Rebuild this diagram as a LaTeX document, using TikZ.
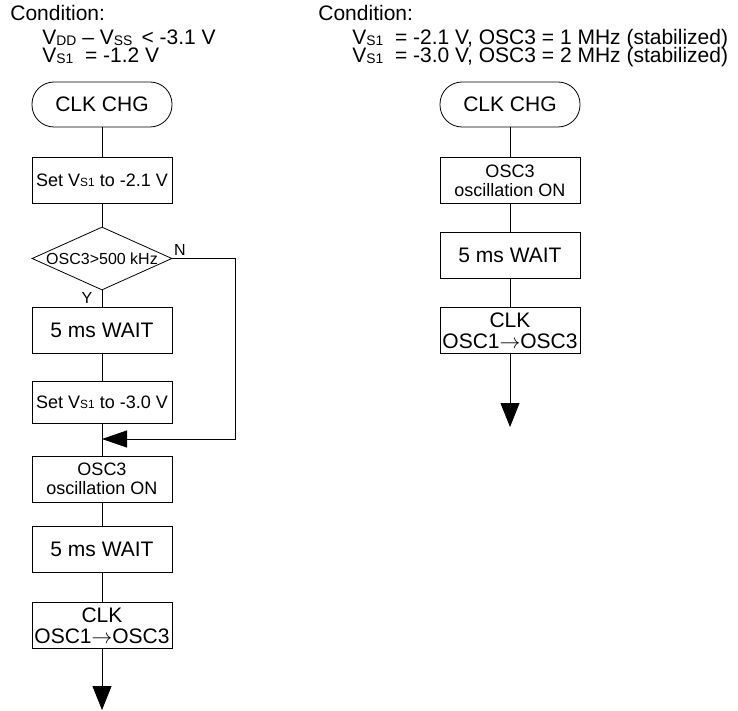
\documentclass[tikz,border=0pt]{standalone}
\usepackage{fontspec}
\setmainfont{Liberation Sans}
\usetikzlibrary{shapes.geometric,arrows.meta}
\newcommand\lowsub[1]{\raisebox{-0.02em}{\scalebox{0.66}{#1}}}

\begin{document}
\begin{tikzpicture}[x=1pt,y=-1pt,line width=0.8pt,
		every node/.style={font=\fontsize{21}{21}\selectfont, inner sep=0pt},
		box/.style={draw, minimum width=140pt, minimum height=46pt, align=center},
		small/.style={font=\fontsize{18}{19}\selectfont},
		term/.style={box, minimum height=45pt, rounded corners=22pt},
		decision/.style={draw, diamond, aspect=2.2, minimum width=140pt, minimum height=63pt, font=\fontsize{16}{16}\selectfont},
		label/.style={font=\fontsize{16}{16}\selectfont},
		arr/.style={-{Triangle[length=24pt,width=19pt]}}]
		\useasboundingbox (0,0) rectangle (738,711);
		\pgfmathsetmacro\xl{102}
		\pgfmathsetmacro\xr{510}
		% conditions
		\node[anchor=base west] (condl) at (10,21) {Condition:};
		\node[anchor=base west] (condl1) at (42,45) {V\lowsub{DD} -- V\lowsub{SS} \,< -3.1 V};
		\node[anchor=base west] (condl2) at (42,63) {V\lowsub{S1} \ = -1.2 V};
		\node[anchor=base west] (condr) at (318,21) {Condition:};
		\node[anchor=base west] (condr1) at (352,45) {V\lowsub{S1} \ = -2.1 V, OSC3 = 1 MHz (stabilized)};
		\node[anchor=base west] (condr2) at (352,63) {V\lowsub{S1} \ = -3.0 V, OSC3 = 2 MHz (stabilized)};
		% left flow
		\node[term] (tl) at (\xl,104.5) {CLK CHG};
		\node[box,small] (setl1) at (\xl,180) {Set V\lowsub{S1} to -2.1 V};
		\node[decision] (chk) at (\xl,258.5) {OSC3>500 kHz};
		\node[box] (waitl1) at (\xl,330.5) {5 ms WAIT};
		\node[box,small,minimum height=42pt] (setl2) at (\xl,402) {Set V\lowsub{S1} to -3.0 V};
		\coordinate (join) at (\xl,439);
		\node[box,small] (oscl) at (\xl,479) {OSC3\\oscillation ON};
		\node[box] (waitl2) at (\xl,549.5) {5 ms WAIT};
		\node[box] (clkl) at (\xl,625.5) {CLK\\OSC1$\rightarrow$OSC3};
		\coordinate (endl) at (\xl,710);
		\node[label] (yes) at (87,298) {Y};
		\node[label] (no) at (180,250) {N};
		\draw (tl) -- (setl1) -- (chk) -- (waitl1) -- (setl2) -- (oscl) -- (waitl2) -- (clkl);
		\draw[arr] (clkl) -- (endl);
		\draw[-{Triangle[length=25pt,width=17pt]}] (chk.east) -- ++(63,0) |- (join);
		% right flow
		\node[term] (tr) at (\xr,104.5) {CLK CHG};
		\node[box,small] (oscr) at (\xr,180.5) {OSC3\\oscillation ON};
		\node[box] (waitr) at (\xr,255) {5 ms WAIT};
		\node[box] (clkr) at (\xr,330.5) {CLK\\OSC1$\rightarrow$OSC3};
		\coordinate (endr) at (\xr,427);
		\draw (tr) -- (oscr) -- (waitr) -- (clkr);
		\draw[arr] (clkr) -- (endr);
	\end{tikzpicture}
\end{document}
